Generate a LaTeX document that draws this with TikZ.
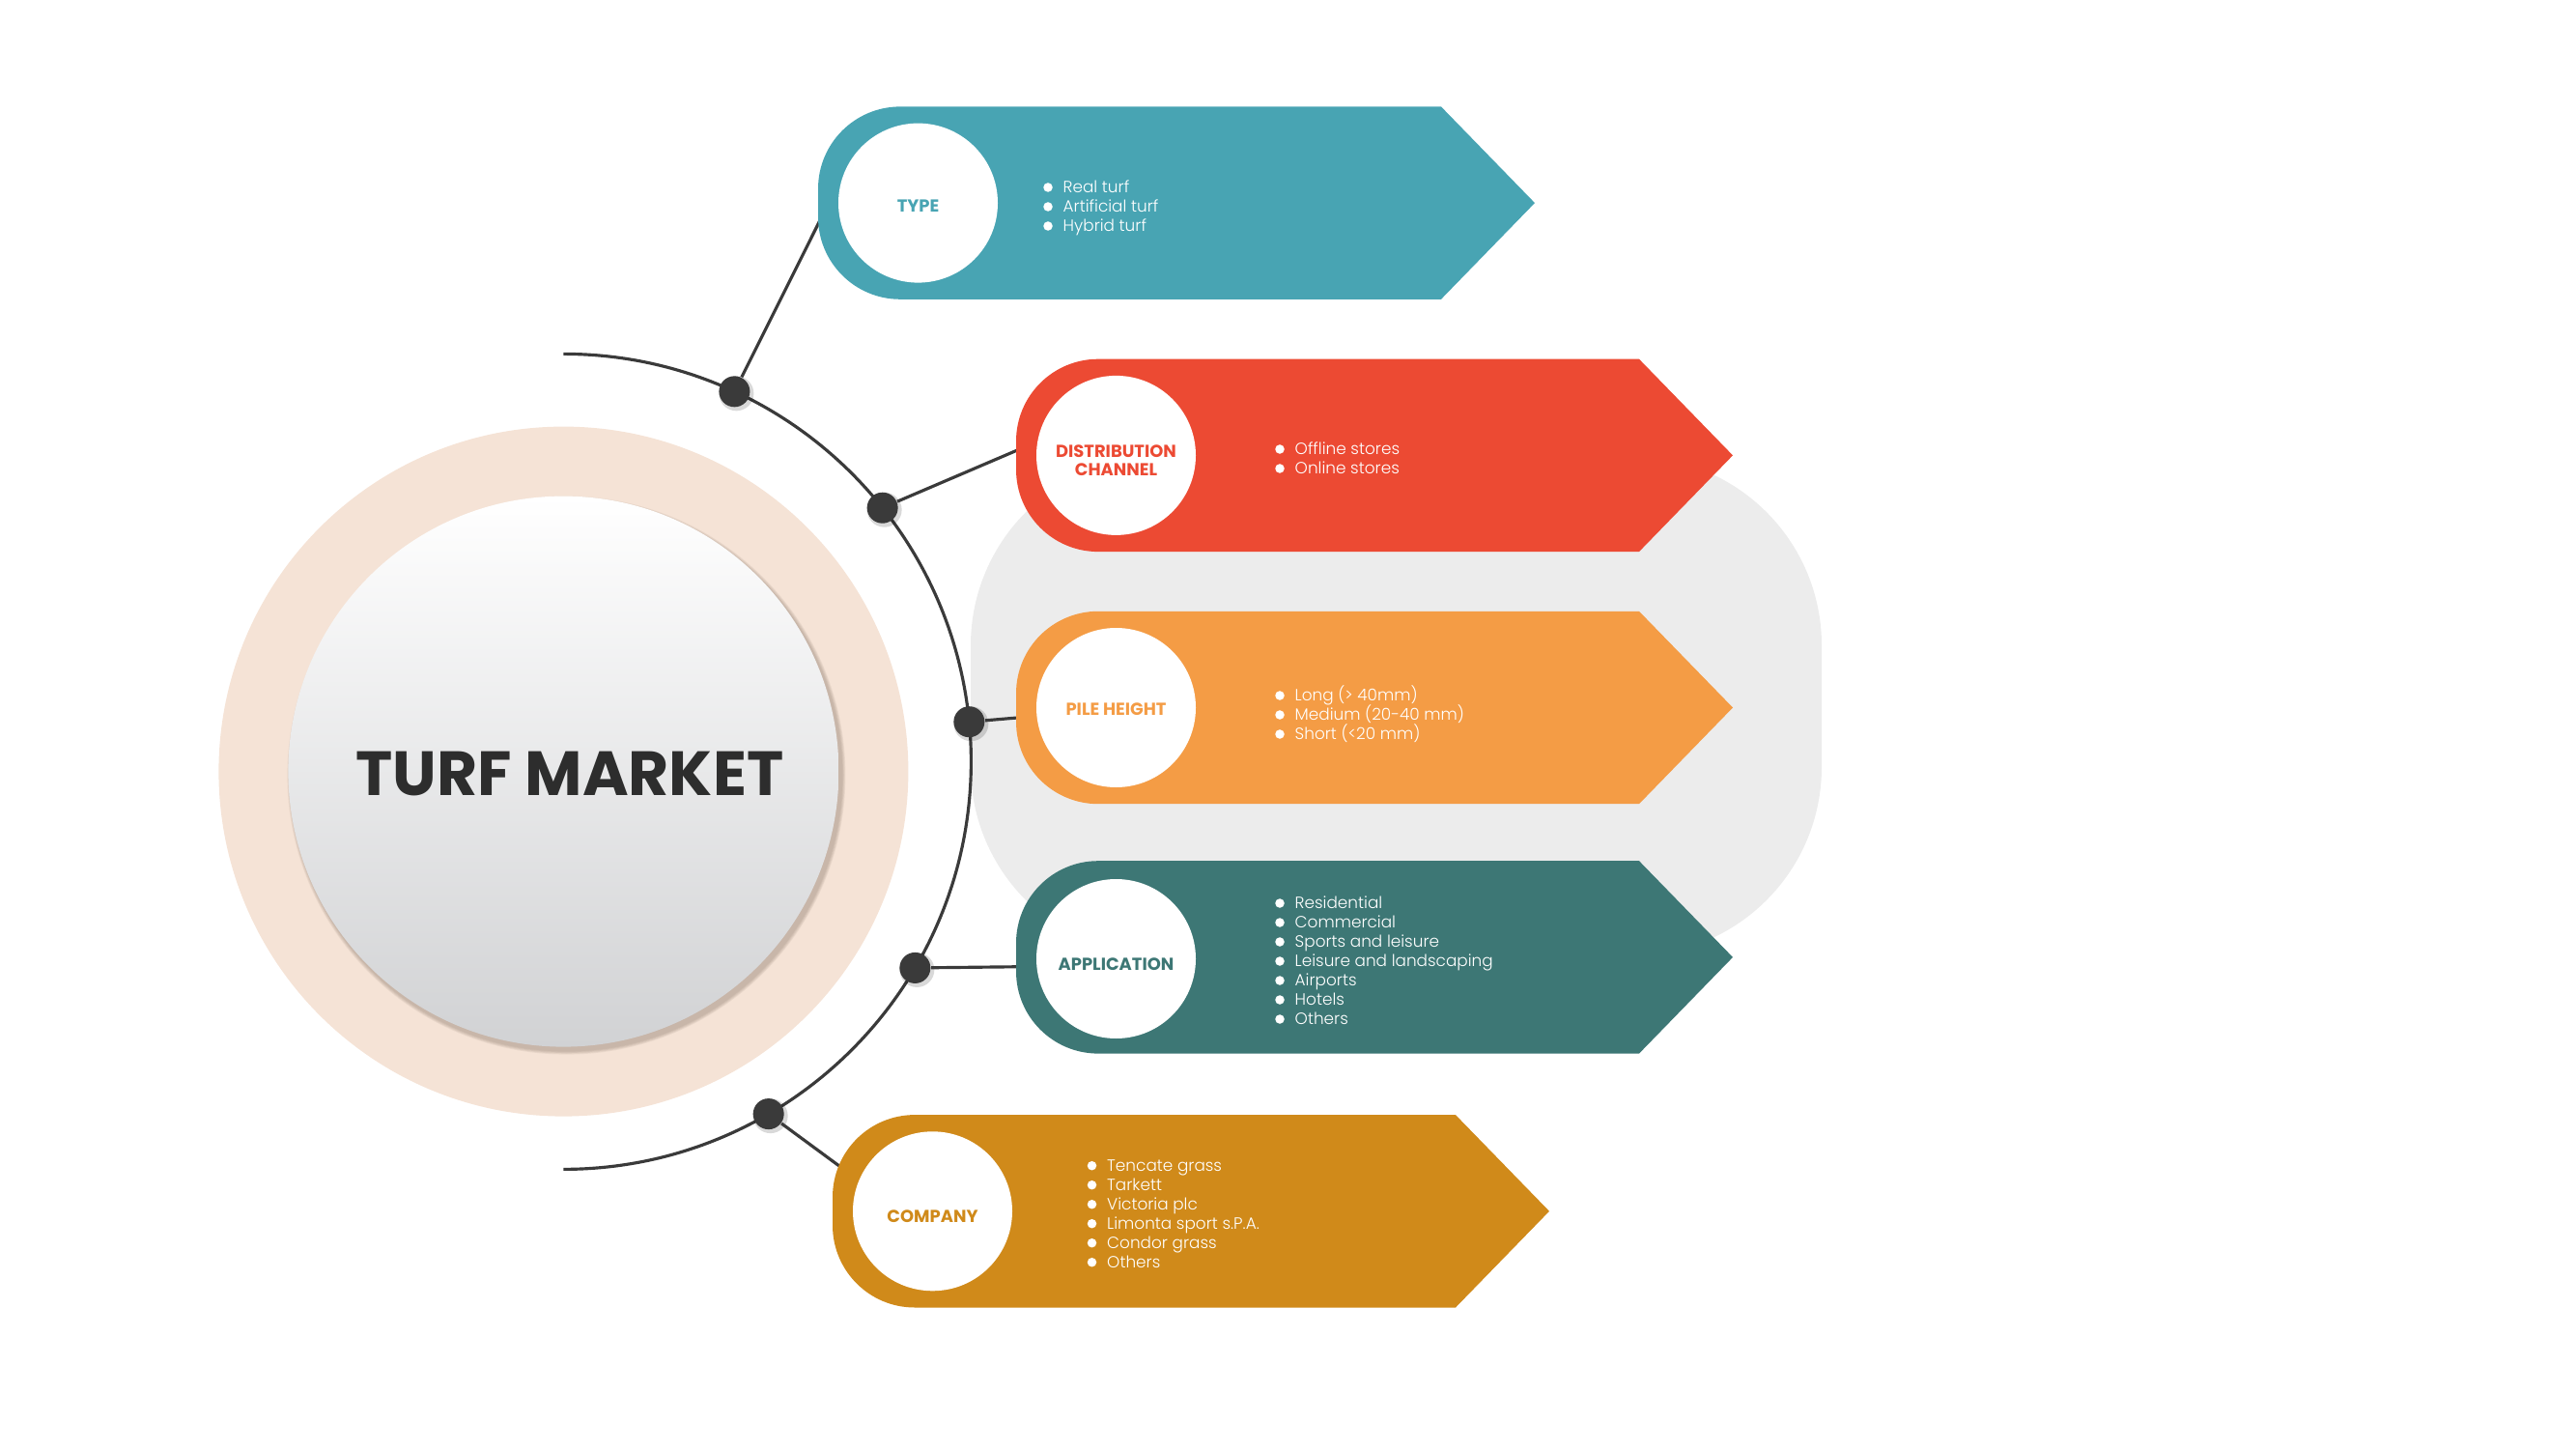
\documentclass[tikz,border=0pt]{standalone}
\usepackage{fontspec}
\setmainfont{Poppins}
\newfontfamily\thinfont{Poppins Light}
\usepackage{xcolor}
\usepackage{tikz}
\definecolor{typecol}{HTML}{48A4B3}
\definecolor{distcol}{HTML}{EC4A33}
\definecolor{pilecol}{HTML}{F49C45}
\definecolor{appcol}{HTML}{3D7775}
\definecolor{compcol}{HTML}{D08A1A}
\definecolor{peach}{HTML}{F5E3D6}
\definecolor{bggray}{HTML}{ECECEC}
\definecolor{linegray}{HTML}{3A3A3A}
\definecolor{titlecol}{HTML}{2D2D2D}
\definecolor{innerbot}{HTML}{D1D2D4}
\definecolor{shadecol}{HTML}{8C7A6C}
\tikzstyle{hub} = [circle,fill=linegray,minimum size=0.32cm,inner sep=0]
\tikzstyle{spoke} = [linegray,line width=0.9pt]
\tikzstyle{segcircle} = [circle,fill=white,minimum size=1.65cm,inner sep=0]
\tikzstyle{seglabel} = [inner sep=0,align=center,font=\fontsize{5.1}{5.5}\selectfont\bfseries]
\tikzstyle{bullettext} = [anchor=base west,xshift=0.15cm,yshift=-1.65pt,inner sep=0,text=white,font=\fontsize{4.8}{5.7}\selectfont\thinfont]

\begin{document}
\begin{tikzpicture}
          \useasboundingbox (0,0) rectangle (26.67,15);
          % backdrop
          \fill[bggray,rounded corners=1.95cm] (10.05,5.11) rectangle (18.86,10.27);
          \fill[peach] (5.834,7.014) circle (3.57);
          \foreach \k in {1,...,5}
            \fill[shadecol,opacity=0.1] (5.864,6.974) circle ({2.85+0.008*\k});
          \shade[top color=white,middle color=black!6,bottom color=innerbot] (5.834,7.014) circle (2.85);
          \node[font=\fontsize{18.4}{21}\selectfont\bfseries,text=titlecol] (title) at (5.90,6.99) {TURF MARKET};

          % arc and hubs
          \draw[spoke] (5.834,11.336) arc[start angle=90,end angle=-90,radius=4.22];
          \foreach \a in {65.2,38.5,5.6,-30.4,-59.8}
            \fill[black,opacity=0.15] ([shift={(\a:4.22)}]5.854,7.096) circle (0.18);
          \node[hub] (d1) at ([shift={(65.2:4.22)}]5.834,7.116) {};
          \node[hub] (d2) at ([shift={(38.5:4.22)}]5.834,7.116) {};
          \node[hub] (d3) at ([shift={(5.6:4.22)}]5.834,7.116) {};
          \node[hub] (d4) at ([shift={(-30.4:4.22)}]5.834,7.116) {};
          \node[hub] (d5) at ([shift={(-59.8:4.22)}]5.834,7.116) {};
          \coordinate (typein) at (8.524,12.788);
          \coordinate (distin) at (10.65,10.39);
          \coordinate (pilein) at (10.65,7.58);
          \coordinate (appin) at (10.68,4.994);
          \coordinate (compin) at (8.73,2.90);
          \draw[spoke] (d1) -- (typein);
          \draw[spoke] (d2) -- (distin);
          \draw[spoke] (d3) -- (pilein);
          \draw[spoke] (d4) -- (appin);
          \draw[spoke] (d5) -- (compin);

          % banners
          \fill[typecol] (14.92,13.896) -- (9.32,13.896) arc[start angle=90,end angle=180,radius=0.85] -- (8.47,12.752) arc[start angle=180,end angle=270,radius=0.85] -- (14.92,11.902) -- (15.89,12.899) -- cycle;
          \fill[distcol] (16.97,11.283) -- (11.37,11.283) arc[start angle=90,end angle=180,radius=0.85] -- (10.52,10.139) arc[start angle=180,end angle=270,radius=0.85] -- (16.97,9.289) -- (17.94,10.286) -- cycle;
          \fill[pilecol] (16.97,8.672) -- (11.37,8.672) arc[start angle=90,end angle=180,radius=0.85] -- (10.52,7.528) arc[start angle=180,end angle=270,radius=0.85] -- (16.97,6.678) -- (17.94,7.675) -- cycle;
          \fill[appcol] (16.97,6.088) -- (11.37,6.088) arc[start angle=90,end angle=180,radius=0.85] -- (10.52,4.944) arc[start angle=180,end angle=270,radius=0.85] -- (16.97,4.094) -- (17.94,5.091) -- cycle;
          \fill[compcol] (15.07,3.459) -- (9.47,3.459) arc[start angle=90,end angle=180,radius=0.85] -- (8.62,2.315) arc[start angle=180,end angle=270,radius=0.85] -- (15.07,1.465) -- (16.04,2.462) -- cycle;

          \node[segcircle] (type) at (9.505,12.899) {};
          \node[segcircle] (dist) at (11.555,10.286) {};
          \node[segcircle] (pile) at (11.555,7.675) {};
          \node[segcircle] (app) at (11.555,5.075) {};
          \node[segcircle] (comp) at (9.655,2.462) {};
          \node[seglabel,text=typecol] (typelabel) at ([yshift=-0.03cm]type.center) {TYPE};
          \node[seglabel,text=distcol] (distlabel) at ([yshift=-0.05cm]dist.center) {DISTRIBUTION\\CHANNEL};
          \node[seglabel,text=pilecol] (pilelabel) at ([yshift=-0.02cm]pile.center) {PILE HEIGHT};
          \node[seglabel,text=appcol] (applabel) at ([yshift=-0.06cm]app.center) {APPLICATION};
          \node[seglabel,text=compcol] (complabel) at ([yshift=-0.05cm]comp.center) {COMPANY};

          % lists
          \filldraw[white] (10.85,13.06) circle (0.04) node[bullettext] (type1) {Real turf};
          \filldraw[white] (10.85,12.86) circle (0.04) node[bullettext] (type2) {Artificial turf};
          \filldraw[white] (10.85,12.66) circle (0.04) node[bullettext] (type3) {Hybrid turf};

          \filldraw[white] (13.25,10.35) circle (0.04) node[bullettext] (dist1) {Offline stores};
          \filldraw[white] (13.25,10.15) circle (0.04) node[bullettext] (dist2) {Online stores};

          \filldraw[white] (13.25,7.80) circle (0.04) node[bullettext] (pile1) {Long (> 40mm)};
          \filldraw[white] (13.25,7.60) circle (0.04) node[bullettext] (pile2) {Medium (20-40 mm)};
          \filldraw[white] (13.25,7.40) circle (0.04) node[bullettext] (pile3) {Short (<20 mm)};

          \filldraw[white] (13.25,5.65) circle (0.04) node[bullettext] (app1) {Residential};
          \filldraw[white] (13.25,5.45) circle (0.04) node[bullettext] (app2) {Commercial};
          \filldraw[white] (13.25,5.25) circle (0.04) node[bullettext] (app3) {Sports and leisure};
          \filldraw[white] (13.25,5.05) circle (0.04) node[bullettext] (app4) {Leisure and landscaping};
          \filldraw[white] (13.25,4.85) circle (0.04) node[bullettext] (app5) {Airports};
          \filldraw[white] (13.25,4.65) circle (0.04) node[bullettext] (app6) {Hotels};
          \filldraw[white] (13.25,4.45) circle (0.04) node[bullettext] (app7) {Others};

          \filldraw[white] (11.305,2.933) circle (0.04) node[bullettext] (comp1) {Tencate grass};
          \filldraw[white] (11.305,2.733) circle (0.04) node[bullettext] (comp2) {Tarkett};
          \filldraw[white] (11.305,2.533) circle (0.04) node[bullettext] (comp3) {Victoria plc};
          \filldraw[white] (11.305,2.333) circle (0.04) node[bullettext] (comp4) {Limonta sport s.P.A.};
          \filldraw[white] (11.305,2.133) circle (0.04) node[bullettext] (comp5) {Condor grass};
          \filldraw[white] (11.305,1.933) circle (0.04) node[bullettext] (comp6) {Others};
\end{tikzpicture}
\end{document}
